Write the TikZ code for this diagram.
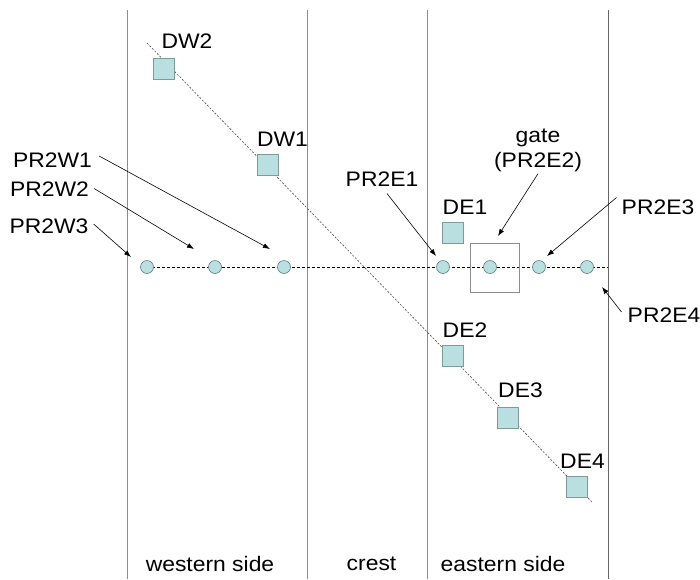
\documentclass[tikz,border=0pt]{standalone}
\usepackage{fontspec}
\setmainfont{Liberation Sans}[FakeStretch=1.09]
\usetikzlibrary{arrows.meta}
\definecolor{agua}{HTML}{B9DFE0}
\definecolor{contorno}{HTML}{5F7F80}
\definecolor{cinzalinha}{HTML}{8C8C8C}
\def\piezowest{w3/147, w2/215, w1/284}
\def\piezoeast{e1/443, e2/490, e3/539, e4/587}
\def\drains{dw2/163.5/68.5, dw1/267.5/164.5, de1/453/233, de2/453/356, de3/508/418, de4/576.5/487}
\tikzset{
  piezo/.style={circle, draw=contorno, fill=agua, line width=0.6pt, inner sep=0pt, minimum size=13pt},
  dreno/.style={rectangle, draw=contorno!80, fill=agua, line width=0.6pt, inner sep=0pt, minimum size=21pt},
  portao/.style={rectangle, draw=cinzalinha, line width=0.6pt, inner sep=0pt, minimum size=49pt},
  zona/.style={cinzalinha, line width=0.8pt},
  perfil/.style={black, line width=0.7pt, dash pattern=on 3pt off 2pt},
  diagonal/.style={black!70, line width=0.6pt, dash pattern=on 2pt off 1.6pt},
  seta/.style={-{Latex[length=7pt,width=5pt]}, line width=0.6pt},
  rotulo/.style={font=\fontsize{21}{25}\selectfont, inner sep=2pt},
}

\begin{document}
\begin{tikzpicture}[x=1pt, y=-1pt]
  \useasboundingbox (0,0) rectangle (700,579);

  % ---------------- zones ----------------
  \foreach \x in {127, 307, 427} { \draw[zona] (\x,10) -- (\x,579); }
  \draw[zona, draw=black!60, line width=1pt] (608,10) -- (608,579);

  % ---------------- profile lines ----------------
  \coordinate (ini) at (147,267);
  \coordinate (fim) at (608,267);
  \draw[perfil] (ini) -- (fim);
  \coordinate (dini) at (147,43);
  \coordinate (dfim) at (593,503);
  \draw[diagonal] (dini) -- (dfim);

  % gate around the second eastern piezometer
  \node[portao] (gate) at (494.5,267.5) {};

  % ---------------- piezometers and drains ----------------
  \foreach \n/\x in \piezowest { \node[piezo] (\n) at (\x,267) {}; }
  \foreach \n/\x in \piezoeast { \node[piezo] (\n) at (\x,267) {}; }
  \foreach \n/\x/\y in \drains { \node[dreno] (\n) at (\x,\y) {}; }

  % ---------------- labels ----------------
  \node[rotulo] (ldw2) at (187,41.5) {DW2};
  \node[rotulo] (ldw1) at (282.5,139.5) {DW1};
  \node[rotulo] (lde1) at (465,207.5) {DE1};
  \node[rotulo] (lde2) at (465,330.5) {DE2};
  \node[rotulo] (lde3) at (520.5,390.5) {DE3};
  \node[rotulo] (lde4) at (582.5,461.5) {DE4};
  \node[rotulo] (lw1) at (52.5,160) {PR2W1};
  \node[rotulo] (lw2) at (49.5,189.5) {PR2W2};
  \node[rotulo] (lw3) at (49,226) {PR2W3};
  \node[rotulo] (le1) at (382,179) {PR2E1};
  \node[rotulo, align=center] (le2) at (538,150) {gate\\(PR2E2)};
  \node[rotulo] (le3) at (658,207.5) {PR2E3};
  \node[rotulo] (le4) at (664,315) {PR2E4};
  \node[rotulo] (west) at (210,563.5) {western side};
  \node[rotulo] (crest) at (371.5,563.5) {crest};
  \node[rotulo] (east) at (503,563.5) {eastern side};

  % ---------------- pointers ----------------
  \coordinate (tw1) at (270,249);
  \coordinate (tw2) at (194,249);
  \coordinate (tw3) at (131,257);
  \coordinate (te1) at (436,256);
  \coordinate (te2) at (498,236);
  \coordinate (te3) at (547,256);
  \coordinate (te4) at (602,287);
  \draw[seta] ([xshift=5pt,yshift=4pt]lw1.east) -- (tw1);
  \draw[seta] ([xshift=3pt,yshift=1pt]lw2.east) -- (tw2);
  \draw[seta] ([xshift=3pt,yshift=2pt]lw3.east) -- (tw3);
  \draw[seta] ([xshift=5pt,yshift=-5pt]le1.south) -- (te1);
  \draw[seta] (le2.south) -- (te2);
  \draw[seta] ([xshift=-3pt,yshift=10pt]le3.west) -- (te3);
  \draw[seta] ([xshift=-4pt,yshift=3pt]le4.west) -- (te4);
\end{tikzpicture}
\end{document}
